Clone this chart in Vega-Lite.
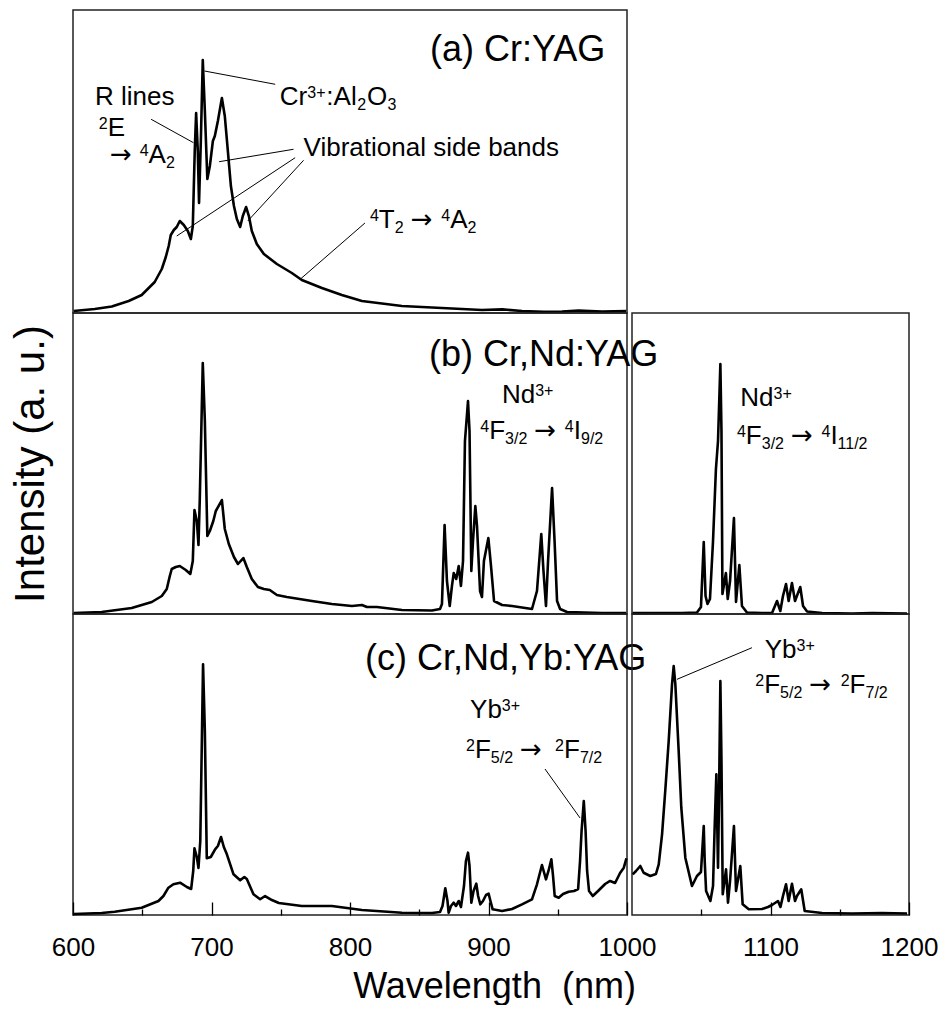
{
  "$schema": "https://vega.github.io/schema/vega-lite/v6.json",
  "background": "white",
  "padding": {"left": 8, "top": 9, "right": 0, "bottom": 0},
  "config": {
    "font": "Liberation Sans",
    "view": {"stroke": "#222222", "strokeWidth": 1.5},
    "axis": {"grid": false, "titleFontWeight": "normal", "titleColor": "black", "labelColor": "black", "labelFont": "Liberation Sans", "titleFont": "Liberation Sans"}
  },
  "datasets": {
    "spec": [
      {"p":"a","w":600.5,"i":0.66},{"p":"a","w":615.7,"i":1.32},{"p":"a","w":628.0,"i":2.15},{"p":"a","w":640.2,"i":3.96},{"p":"a","w":649.6,"i":5.94},{"p":"a","w":659.0,"i":10.23},{"p":"a","w":664.1,"i":14.52},{"p":"a","w":667.0,"i":18.48},{"p":"a","w":669.1,"i":22.11},{"p":"a","w":670.6,"i":25.74},{"p":"a","w":672.8,"i":27.39},{"p":"a","w":674.9,"i":28.38},{"p":"a","w":677.1,"i":30.36},{"p":"a","w":680.0,"i":29.04},{"p":"a","w":682.9,"i":27.06},{"p":"a","w":685.1,"i":24.42},{"p":"a","w":686.5,"i":28.71},{"p":"a","w":687.9,"i":53.47},{"p":"a","w":688.9,"i":66.0},{"p":"a","w":690.1,"i":53.47},{"p":"a","w":691.0,"i":36.3},{"p":"a","w":692.3,"i":56.77},{"p":"a","w":693.7,"i":83.5},{"p":"a","w":695.2,"i":66.67},{"p":"a","w":697.0,"i":44.22},{"p":"a","w":698.8,"i":48.51},{"p":"a","w":701.0,"i":56.77},{"p":"a","w":702.4,"i":58.42},{"p":"a","w":704.6,"i":63.37},{"p":"a","w":707.5,"i":70.96},{"p":"a","w":709.6,"i":65.02},{"p":"a","w":711.8,"i":53.47},{"p":"a","w":714.0,"i":41.91},{"p":"a","w":716.2,"i":35.31},{"p":"a","w":718.3,"i":31.02},{"p":"a","w":720.7,"i":28.38},{"p":"a","w":722.6,"i":32.01},{"p":"a","w":725.0,"i":34.98},{"p":"a","w":727.0,"i":32.01},{"p":"a","w":729.1,"i":27.06},{"p":"a","w":732.7,"i":22.77},{"p":"a","w":737.8,"i":19.47},{"p":"a","w":747.2,"i":16.17},{"p":"a","w":758.0,"i":13.2},{"p":"a","w":765.2,"i":10.89},{"p":"a","w":779.7,"i":8.25},{"p":"a","w":794.1,"i":5.94},{"p":"a","w":808.6,"i":3.96},{"p":"a","w":837.5,"i":2.31},{"p":"a","w":866.4,"i":1.65},{"p":"a","w":895.3,"i":0.99},{"p":"a","w":910.0,"i":1.2},{"p":"a","w":924.2,"i":0.66},{"p":"a","w":940.0,"i":0.4},{"p":"a","w":953.1,"i":0.5},{"p":"a","w":965.0,"i":0.8},{"p":"a","w":982.0,"i":0.5},{"p":"a","w":999.4,"i":0.66},
      {"p":"bL","w":600.5,"i":0.33},{"p":"bL","w":620.7,"i":0.66},{"p":"bL","w":642.4,"i":1.99},{"p":"bL","w":656.9,"i":3.99},{"p":"bL","w":664.1,"i":5.98},{"p":"bL","w":667.7,"i":8.31},{"p":"bL","w":669.9,"i":12.62},{"p":"bL","w":671.3,"i":14.95},{"p":"bL","w":674.2,"i":15.61},{"p":"bL","w":677.1,"i":15.95},{"p":"bL","w":681.4,"i":14.62},{"p":"bL","w":684.7,"i":13.29},{"p":"bL","w":686.5,"i":17.61},{"p":"bL","w":687.7,"i":34.55},{"p":"bL","w":689.4,"i":30.9},{"p":"bL","w":690.6,"i":22.92},{"p":"bL","w":691.5,"i":37.54},{"p":"bL","w":693.7,"i":83.39},{"p":"bL","w":695.2,"i":64.12},{"p":"bL","w":697.0,"i":25.91},{"p":"bL","w":698.8,"i":27.57},{"p":"bL","w":701.3,"i":30.9},{"p":"bL","w":703.1,"i":34.22},{"p":"bL","w":707.5,"i":37.87},{"p":"bL","w":709.6,"i":28.24},{"p":"bL","w":712.5,"i":23.26},{"p":"bL","w":716.2,"i":18.94},{"p":"bL","w":719.1,"i":16.61},{"p":"bL","w":723.0,"i":18.6},{"p":"bL","w":725.5,"i":15.61},{"p":"bL","w":729.1,"i":11.63},{"p":"bL","w":733.5,"i":8.97},{"p":"bL","w":737.8,"i":8.31},{"p":"bL","w":742.1,"i":7.97},{"p":"bL","w":747.2,"i":6.31},{"p":"bL","w":754.4,"i":5.65},{"p":"bL","w":772.5,"i":4.32},{"p":"bL","w":786.9,"i":3.32},{"p":"bL","w":801.4,"i":2.66},{"p":"bL","w":808.6,"i":2.99},{"p":"bL","w":812.2,"i":2.33},{"p":"bL","w":819.4,"i":2.33},{"p":"bL","w":837.5,"i":1.33},{"p":"bL","w":859.2,"i":1.16},{"p":"bL","w":865.0,"i":1.66},{"p":"bL","w":866.4,"i":3.32},{"p":"bL","w":868.3,"i":29.57},{"p":"bL","w":870.0,"i":10.96},{"p":"bL","w":872.0,"i":2.66},{"p":"bL","w":873.6,"i":9.3},{"p":"bL","w":874.9,"i":13.62},{"p":"bL","w":876.7,"i":11.63},{"p":"bL","w":878.5,"i":15.95},{"p":"bL","w":880.1,"i":9.3},{"p":"bL","w":881.6,"i":17.61},{"p":"bL","w":883.0,"i":57.48},{"p":"bL","w":885.2,"i":70.76},{"p":"bL","w":886.3,"i":60.8},{"p":"bL","w":887.6,"i":14.29},{"p":"bL","w":888.8,"i":24.25},{"p":"bL","w":890.5,"i":35.88},{"p":"bL","w":891.7,"i":29.24},{"p":"bL","w":893.9,"i":7.64},{"p":"bL","w":895.3,"i":5.65},{"p":"bL","w":896.7,"i":17.61},{"p":"bL","w":899.9,"i":25.25},{"p":"bL","w":901.8,"i":15.95},{"p":"bL","w":904.0,"i":4.32},{"p":"bL","w":909.8,"i":2.99},{"p":"bL","w":917.0,"i":2.66},{"p":"bL","w":931.4,"i":1.66},{"p":"bL","w":935.0,"i":7.64},{"p":"bL","w":938.1,"i":26.58},{"p":"bL","w":939.7,"i":14.29},{"p":"bL","w":941.5,"i":2.66},{"p":"bL","w":943.0,"i":17.61},{"p":"bL","w":945.9,"i":41.86},{"p":"bL","w":947.7,"i":24.25},{"p":"bL","w":949.5,"i":4.32},{"p":"bL","w":951.7,"i":1.66},{"p":"bL","w":956.7,"i":0.66},{"p":"bL","w":982.0,"i":0.33},{"p":"bL","w":999.4,"i":0.33},
      {"p":"bR","w":1000.4,"i":0.3},{"p":"bR","w":1021.7,"i":0.33},{"p":"bR","w":1036.1,"i":0.33},{"p":"bR","w":1046.9,"i":0.5},{"p":"bR","w":1049.8,"i":2.33},{"p":"bR","w":1051.8,"i":23.92},{"p":"bR","w":1053.1,"i":5.98},{"p":"bR","w":1054.5,"i":3.32},{"p":"bR","w":1056.3,"i":4.98},{"p":"bR","w":1058.5,"i":24.25},{"p":"bR","w":1060.6,"i":48.17},{"p":"bR","w":1062.1,"i":57.48},{"p":"bR","w":1063.8,"i":83.06},{"p":"bR","w":1064.6,"i":60.8},{"p":"bR","w":1065.3,"i":6.64},{"p":"bR","w":1067.8,"i":13.62},{"p":"bR","w":1069.1,"i":4.98},{"p":"bR","w":1070.8,"i":10.96},{"p":"bR","w":1073.6,"i":31.89},{"p":"bR","w":1075.1,"i":3.99},{"p":"bR","w":1077.5,"i":16.28},{"p":"bR","w":1079.4,"i":2.66},{"p":"bR","w":1083.0,"i":0.5},{"p":"bR","w":1093.9,"i":0.33},{"p":"bR","w":1101.1,"i":0.33},{"p":"bR","w":1104.7,"i":4.32},{"p":"bR","w":1107.1,"i":1.0},{"p":"bR","w":1109.0,"i":5.98},{"p":"bR","w":1111.2,"i":9.97},{"p":"bR","w":1113.1,"i":4.32},{"p":"bR","w":1115.5,"i":10.3},{"p":"bR","w":1117.7,"i":4.32},{"p":"bR","w":1121.5,"i":8.97},{"p":"bR","w":1123.5,"i":2.66},{"p":"bR","w":1126.4,"i":0.83},{"p":"bR","w":1137.2,"i":0.33},{"p":"bR","w":1158.8,"i":0.17},{"p":"bR","w":1173.3,"i":0.33},{"p":"bR","w":1198.6,"i":0.17},
      {"p":"cL","w":600.5,"i":0.33},{"p":"cL","w":620.7,"i":0.66},{"p":"cL","w":630.1,"i":1.1},{"p":"cL","w":649.6,"i":2.43},{"p":"cL","w":661.7,"i":4.65},{"p":"cL","w":665.3,"i":6.31},{"p":"cL","w":668.9,"i":9.07},{"p":"cL","w":672.5,"i":10.2},{"p":"cL","w":677.3,"i":10.73},{"p":"cL","w":682.2,"i":9.3},{"p":"cL","w":685.3,"i":8.64},{"p":"cL","w":686.8,"i":14.62},{"p":"cL","w":687.7,"i":22.16},{"p":"cL","w":689.4,"i":19.27},{"p":"cL","w":690.6,"i":15.61},{"p":"cL","w":691.9,"i":24.58},{"p":"cL","w":693.9,"i":83.29},{"p":"cL","w":695.2,"i":61.13},{"p":"cL","w":696.6,"i":18.84},{"p":"cL","w":699.5,"i":19.27},{"p":"cL","w":702.6,"i":21.83},{"p":"cL","w":704.6,"i":22.92},{"p":"cL","w":706.9,"i":25.91},{"p":"cL","w":708.9,"i":22.59},{"p":"cL","w":711.1,"i":20.17},{"p":"cL","w":715.9,"i":13.52},{"p":"cL","w":720.7,"i":11.53},{"p":"cL","w":723.7,"i":12.62},{"p":"cL","w":725.5,"i":11.96},{"p":"cL","w":730.3,"i":6.88},{"p":"cL","w":735.1,"i":5.22},{"p":"cL","w":738.7,"i":6.31},{"p":"cL","w":743.6,"i":4.98},{"p":"cL","w":748.6,"i":3.99},{"p":"cL","w":765.2,"i":2.99},{"p":"cL","w":786.9,"i":2.99},{"p":"cL","w":808.6,"i":1.66},{"p":"cL","w":837.5,"i":0.76},{"p":"cL","w":859.2,"i":0.66},{"p":"cL","w":865.0,"i":1.0},{"p":"cL","w":866.8,"i":2.99},{"p":"cL","w":868.8,"i":8.87},{"p":"cL","w":870.4,"i":4.65},{"p":"cL","w":871.2,"i":0.76},{"p":"cL","w":872.9,"i":2.99},{"p":"cL","w":874.9,"i":4.09},{"p":"cL","w":876.5,"i":2.99},{"p":"cL","w":878.5,"i":4.65},{"p":"cL","w":880.1,"i":2.66},{"p":"cL","w":882.3,"i":9.63},{"p":"cL","w":883.7,"i":17.94},{"p":"cL","w":885.2,"i":20.7},{"p":"cL","w":886.3,"i":16.28},{"p":"cL","w":887.6,"i":4.09},{"p":"cL","w":889.2,"i":7.97},{"p":"cL","w":891.2,"i":10.4},{"p":"cL","w":892.5,"i":6.31},{"p":"cL","w":894.1,"i":3.55},{"p":"cL","w":896.0,"i":4.65},{"p":"cL","w":898.2,"i":6.64},{"p":"cL","w":900.1,"i":7.08},{"p":"cL","w":901.4,"i":4.65},{"p":"cL","w":903.0,"i":1.89},{"p":"cL","w":909.8,"i":1.33},{"p":"cL","w":917.0,"i":1.99},{"p":"cL","w":924.2,"i":3.55},{"p":"cL","w":931.4,"i":5.22},{"p":"cL","w":935.0,"i":10.2},{"p":"cL","w":938.6,"i":16.61},{"p":"cL","w":941.5,"i":11.86},{"p":"cL","w":943.3,"i":14.62},{"p":"cL","w":945.4,"i":18.5},{"p":"cL","w":946.6,"i":12.96},{"p":"cL","w":947.8,"i":6.31},{"p":"cL","w":950.7,"i":5.75},{"p":"cL","w":953.8,"i":6.98},{"p":"cL","w":957.9,"i":7.74},{"p":"cL","w":961.8,"i":7.97},{"p":"cL","w":964.7,"i":8.64},{"p":"cL","w":966.1,"i":17.94},{"p":"cL","w":967.2,"i":27.91},{"p":"cL","w":968.8,"i":37.87},{"p":"cL","w":970.1,"i":27.91},{"p":"cL","w":971.2,"i":14.62},{"p":"cL","w":972.6,"i":7.97},{"p":"cL","w":975.3,"i":6.31},{"p":"cL","w":979.1,"i":7.97},{"p":"cL","w":984.2,"i":10.3},{"p":"cL","w":987.8,"i":11.3},{"p":"cL","w":991.4,"i":10.63},{"p":"cL","w":995.0,"i":13.95},{"p":"cL","w":997.7,"i":15.71},{"p":"cL","w":999.6,"i":18.84},
      {"p":"cR","w":1000.5,"i":13.52},{"p":"cR","w":1002.9,"i":14.62},{"p":"cR","w":1006.0,"i":16.28},{"p":"cR","w":1008.4,"i":14.05},{"p":"cR","w":1013.2,"i":12.96},{"p":"cR","w":1017.3,"i":13.62},{"p":"cR","w":1019.3,"i":16.84},{"p":"cR","w":1021.7,"i":26.81},{"p":"cR","w":1024.0,"i":41.2},{"p":"cR","w":1026.5,"i":57.81},{"p":"cR","w":1028.9,"i":76.64},{"p":"cR","w":1030.1,"i":82.72},{"p":"cR","w":1031.3,"i":76.64},{"p":"cR","w":1033.7,"i":54.49},{"p":"cR","w":1035.6,"i":35.65},{"p":"cR","w":1038.5,"i":19.04},{"p":"cR","w":1043.3,"i":9.63},{"p":"cR","w":1046.9,"i":12.96},{"p":"cR","w":1049.8,"i":14.29},{"p":"cR","w":1051.8,"i":29.57},{"p":"cR","w":1052.5,"i":17.94},{"p":"cR","w":1053.5,"i":7.97},{"p":"cR","w":1056.6,"i":4.65},{"p":"cR","w":1058.5,"i":9.63},{"p":"cR","w":1059.6,"i":27.91},{"p":"cR","w":1060.9,"i":46.74},{"p":"cR","w":1062.1,"i":15.71},{"p":"cR","w":1062.8,"i":37.87},{"p":"cR","w":1063.8,"i":77.74},{"p":"cR","w":1064.6,"i":51.16},{"p":"cR","w":1065.5,"i":6.88},{"p":"cR","w":1067.9,"i":15.18},{"p":"cR","w":1069.3,"i":4.09},{"p":"cR","w":1070.8,"i":11.3},{"p":"cR","w":1073.6,"i":29.57},{"p":"cR","w":1075.1,"i":7.97},{"p":"cR","w":1078.2,"i":16.28},{"p":"cR","w":1079.9,"i":3.55},{"p":"cR","w":1084.3,"i":1.89},{"p":"cR","w":1093.9,"i":1.99},{"p":"cR","w":1098.2,"i":2.66},{"p":"cR","w":1101.1,"i":3.32},{"p":"cR","w":1105.4,"i":4.65},{"p":"cR","w":1107.2,"i":2.66},{"p":"cR","w":1109.0,"i":6.31},{"p":"cR","w":1111.2,"i":10.2},{"p":"cR","w":1113.1,"i":4.65},{"p":"cR","w":1115.5,"i":10.4},{"p":"cR","w":1117.7,"i":4.65},{"p":"cR","w":1119.1,"i":6.31},{"p":"cR","w":1122.2,"i":8.54},{"p":"cR","w":1124.7,"i":1.33},{"p":"cR","w":1137.2,"i":0.66},{"p":"cR","w":1158.8,"i":0.5},{"p":"cR","w":1180.5,"i":0.66},{"p":"cR","w":1198.6,"i":0.5}
    ],
    "lead": [
      {"p":"a","w":656.4,"i":63.93,"w2":687.0,"i2":56.2},
      {"p":"a","w":694.9,"i":79.87,"w2":746.0,"i2":75.48},
      {"p":"a","w":759.2,"i":54.03,"w2":705.5,"i2":49.93},
      {"p":"a","w":760.4,"i":51.25,"w2":674.9,"i2":25.41},
      {"p":"a","w":766.5,"i":50.4,"w2":726.2,"i2":30.36},
      {"p":"a","w":810.8,"i":29.7,"w2":764.0,"i2":11.12},
      {"p":"cL","w":940.8,"i":48.5,"w2":966.1,"i2":32.23},
      {"p":"cR","w":1086.6,"i":88.8,"w2":1032.5,"i2":78.3}
    ],
    "notes": [
      {"p":"a","k":"title","t":"(a) Cr:YAG","w":857.7,"i":83.17},
      {"p":"a","k":"main","t":"R lines","w":615.9,"i":68.65},
      {"p":"a","k":"sup","t":"2","w":618.6,"i":58.42},
      {"p":"a","k":"main","t":"E","w":625.1,"i":58.42},
      {"p":"a","k":"arrow","t":"→","w":626.7,"i":49.6},
      {"p":"a","k":"sup","t":"4","w":648.2,"i":49.6},
      {"p":"a","k":"main","t":"A","w":654.6,"i":49.6},
      {"p":"a","k":"sub","t":"2","w":667.1,"i":49.6},
      {"p":"a","k":"main","t":"Cr","w":749.3,"i":68.65},
      {"p":"a","k":"sup","t":"3+","w":769.2,"i":68.65},
      {"p":"a","k":"main","t":":Al","w":782.9,"i":68.65},
      {"p":"a","k":"sub","t":"2","w":805.3,"i":68.65},
      {"p":"a","k":"main","t":"O","w":812.2,"i":68.65},
      {"p":"a","k":"sub","t":"3","w":827.0,"i":68.65},
      {"p":"a","k":"main","t":"Vibrational side bands","w":766.5,"i":51.82},
      {"p":"a","k":"sup","t":"4","w":814.4,"i":28.15},
      {"p":"a","k":"main","t":"T","w":820.8,"i":28.15},
      {"p":"a","k":"sub","t":"2","w":832.3,"i":28.15},
      {"p":"a","k":"arrow","t":"→","w":843.8,"i":28.15},
      {"p":"a","k":"sup","t":"4","w":865.8,"i":28.15},
      {"p":"a","k":"main","t":"A","w":872.3,"i":28.15},
      {"p":"a","k":"sub","t":"2","w":884.8,"i":28.15},
      {"p":"bL","k":"title","t":"(b) Cr,Nd:YAG","w":857.0,"i":82.39},
      {"p":"bL","k":"main","t":"Nd","w":909.8,"i":70.2},
      {"p":"bL","k":"sup","t":"3+","w":933.7,"i":70.2},
      {"p":"bL","k":"sup","t":"4","w":894.1,"i":58.04},
      {"p":"bL","k":"main","t":"F","w":900.5,"i":58.04},
      {"p":"bL","k":"sub","t":"3/2","w":912.0,"i":58.04},
      {"p":"bL","k":"arrow","t":"→","w":933.1,"i":58.04},
      {"p":"bL","k":"sup","t":"4","w":955.1,"i":58.04},
      {"p":"bL","k":"main","t":"I","w":961.6,"i":58.04},
      {"p":"bL","k":"sub","t":"9/2","w":966.8,"i":58.04},
      {"p":"bR","k":"main","t":"Nd","w":1078.2,"i":69.1},
      {"p":"bR","k":"sup","t":"3+","w":1102.2,"i":69.1},
      {"p":"bR","k":"sup","t":"4","w":1075.8,"i":56.48},
      {"p":"bR","k":"main","t":"F","w":1082.2,"i":56.48},
      {"p":"bR","k":"sub","t":"3/2","w":1093.7,"i":56.48},
      {"p":"bR","k":"arrow","t":"→","w":1114.8,"i":56.48},
      {"p":"bR","k":"sup","t":"4","w":1136.8,"i":56.48},
      {"p":"bR","k":"main","t":"I","w":1143.3,"i":56.48},
      {"p":"bR","k":"sub","t":"11/2","w":1148.4,"i":56.48},
      {"p":"cL","k":"title","t":"(c) Cr,Nd,Yb:YAG","w":810.8,"i":81.4},
      {"p":"cL","k":"main","t":"Yb","w":886.7,"i":65.45},
      {"p":"cL","k":"sup","t":"3+","w":909.6,"i":65.45},
      {"p":"cL","k":"sup","t":"2","w":883.7,"i":52.16},
      {"p":"cL","k":"main","t":"F","w":890.2,"i":52.16},
      {"p":"cL","k":"sub","t":"5/2","w":901.7,"i":52.16},
      {"p":"cL","k":"arrow","t":"→","w":922.8,"i":52.16},
      {"p":"cL","k":"sup","t":"2","w":948.1,"i":52.16},
      {"p":"cL","k":"main","t":"F","w":954.5,"i":52.16},
      {"p":"cL","k":"sub","t":"7/2","w":966.0,"i":52.16},
      {"p":"cR","k":"main","t":"Yb","w":1095.8,"i":85.48},
      {"p":"cR","k":"sup","t":"3+","w":1118.8,"i":85.48},
      {"p":"cR","k":"sup","t":"2","w":1089.0,"i":73.85},
      {"p":"cR","k":"main","t":"F","w":1095.4,"i":73.85},
      {"p":"cR","k":"sub","t":"5/2","w":1106.9,"i":73.85},
      {"p":"cR","k":"arrow","t":"→","w":1128.0,"i":73.85},
      {"p":"cR","k":"sup","t":"2","w":1150.7,"i":73.85},
      {"p":"cR","k":"main","t":"F","w":1157.1,"i":73.85},
      {"p":"cR","k":"sub","t":"7/2","w":1168.6,"i":73.85}
    ]
  },
  "columns": 2,
  "spacing": {"row": 0, "column": 5},
  "bounds": "flush",
  "align": "each",
  "concat": [
    {
      "width": 554, "height": 303,
      "encoding": {
        "x": {"field": "w", "type": "quantitative", "scale": {"domain": [600, 1000], "nice": false, "zero": false}, "axis": null},
        "y": {"field": "i", "type": "quantitative", "scale": {"domain": [0, 100], "nice": false}, "axis": null}
      },
      "layer": [
        {"data": {"name": "spec"}, "transform": [{"filter": "datum.p === 'a'"}], "mark": {"type": "line", "color": "black", "strokeWidth": 2.6, "strokeJoin": "round"}},
        {"data": {"name": "lead"}, "transform": [{"filter": "datum.p === 'a'"}], "mark": {"type": "rule", "color": "black", "strokeWidth": 1}, "encoding": {"x2": {"field": "w2"}, "y2": {"field": "i2"}}},
        {"data": {"name": "notes"}, "transform": [{"filter": "datum.p === 'a' && datum.k === 'title'"}], "mark": {"type": "text", "align": "left", "baseline": "alphabetic", "fontSize": 36, "color": "black"}, "encoding": {"text": {"field": "t"}}},
        {"data": {"name": "notes"}, "transform": [{"filter": "datum.p === 'a' && datum.k === 'main'"}], "mark": {"type": "text", "align": "left", "baseline": "alphabetic", "fontSize": 26, "color": "black"}, "encoding": {"text": {"field": "t"}}},
        {"data": {"name": "notes"}, "transform": [{"filter": "datum.p === 'a' && datum.k === 'arrow'"}], "mark": {"type": "text", "align": "left", "baseline": "alphabetic", "fontSize": 26, "font": "DejaVu Sans", "color": "black"}, "encoding": {"text": {"field": "t"}}},
        {"data": {"name": "notes"}, "transform": [{"filter": "datum.p === 'a' && datum.k === 'sup'"}], "mark": {"type": "text", "align": "left", "baseline": "alphabetic", "fontSize": 16, "dy": -7, "color": "black"}, "encoding": {"text": {"field": "t"}}},
        {"data": {"name": "notes"}, "transform": [{"filter": "datum.p === 'a' && datum.k === 'sub'"}], "mark": {"type": "text", "align": "left", "baseline": "alphabetic", "fontSize": 16, "dy": 5, "color": "black"}, "encoding": {"text": {"field": "t"}}}
      ]
    },
    {
      "width": 277, "height": 303,
      "view": {"stroke": null},
      "data": {"values": []},
      "mark": {"type": "point", "opacity": 0}
    },
    {
      "width": 554, "height": 301,
      "encoding": {
        "x": {"field": "w", "type": "quantitative", "scale": {"domain": [600, 1000], "nice": false, "zero": false}, "axis": null},
        "y": {"field": "i", "type": "quantitative", "scale": {"domain": [0, 100], "nice": false}, "axis": {"title": "Intensity (a. u.)", "labels": false, "ticks": false, "domain": false, "titleFontSize": 42, "titlePadding": 21}}
      },
      "layer": [
        {"data": {"name": "spec"}, "transform": [{"filter": "datum.p === 'bL'"}], "mark": {"type": "line", "color": "black", "strokeWidth": 2.6, "strokeJoin": "round"}},
        {"data": {"name": "notes"}, "transform": [{"filter": "datum.p === 'bL' && datum.k === 'title'"}], "mark": {"type": "text", "align": "left", "baseline": "alphabetic", "fontSize": 36, "color": "black"}, "encoding": {"text": {"field": "t"}}},
        {"data": {"name": "notes"}, "transform": [{"filter": "datum.p === 'bL' && datum.k === 'main'"}], "mark": {"type": "text", "align": "left", "baseline": "alphabetic", "fontSize": 26, "color": "black"}, "encoding": {"text": {"field": "t"}}},
        {"data": {"name": "notes"}, "transform": [{"filter": "datum.p === 'bL' && datum.k === 'arrow'"}], "mark": {"type": "text", "align": "left", "baseline": "alphabetic", "fontSize": 26, "font": "DejaVu Sans", "color": "black"}, "encoding": {"text": {"field": "t"}}},
        {"data": {"name": "notes"}, "transform": [{"filter": "datum.p === 'bL' && datum.k === 'sup'"}], "mark": {"type": "text", "align": "left", "baseline": "alphabetic", "fontSize": 16, "dy": -7, "color": "black"}, "encoding": {"text": {"field": "t"}}},
        {"data": {"name": "notes"}, "transform": [{"filter": "datum.p === 'bL' && datum.k === 'sub'"}], "mark": {"type": "text", "align": "left", "baseline": "alphabetic", "fontSize": 16, "dy": 5, "color": "black"}, "encoding": {"text": {"field": "t"}}}
      ]
    },
    {
      "width": 277, "height": 301,
      "encoding": {
        "x": {"field": "w", "type": "quantitative", "scale": {"domain": [1000, 1200], "nice": false, "zero": false}, "axis": null},
        "y": {"field": "i", "type": "quantitative", "scale": {"domain": [0, 100], "nice": false}, "axis": null}
      },
      "layer": [
        {"data": {"name": "spec"}, "transform": [{"filter": "datum.p === 'bR'"}], "mark": {"type": "line", "color": "black", "strokeWidth": 2.6, "strokeJoin": "round"}},
        {"data": {"name": "notes"}, "transform": [{"filter": "datum.p === 'bR' && datum.k === 'main'"}], "mark": {"type": "text", "align": "left", "baseline": "alphabetic", "fontSize": 26, "color": "black"}, "encoding": {"text": {"field": "t"}}},
        {"data": {"name": "notes"}, "transform": [{"filter": "datum.p === 'bR' && datum.k === 'arrow'"}], "mark": {"type": "text", "align": "left", "baseline": "alphabetic", "fontSize": 26, "font": "DejaVu Sans", "color": "black"}, "encoding": {"text": {"field": "t"}}},
        {"data": {"name": "notes"}, "transform": [{"filter": "datum.p === 'bR' && datum.k === 'sup'"}], "mark": {"type": "text", "align": "left", "baseline": "alphabetic", "fontSize": 16, "dy": -7, "color": "black"}, "encoding": {"text": {"field": "t"}}},
        {"data": {"name": "notes"}, "transform": [{"filter": "datum.p === 'bR' && datum.k === 'sub'"}], "mark": {"type": "text", "align": "left", "baseline": "alphabetic", "fontSize": 16, "dy": 5, "color": "black"}, "encoding": {"text": {"field": "t"}}}
      ]
    },
    {
      "width": 554, "height": 301,
      "encoding": {
        "x": {"field": "w", "type": "quantitative", "scale": {"domain": [600, 1000], "nice": false, "zero": false},
              "axis": {"values": [600, 650, 700, 750, 800, 850, 900, 950, 1000], "format": "d", "labelExpr": "datum.value % 100 === 0 ? datum.label : ''",
                       "tickSize": {"condition": {"test": "datum.value % 100 === 0", "value": -13}, "value": -6},
                       "tickColor": "black", "tickWidth": 1.3, "domain": false, "labelFontSize": 26, "labelPadding": 32, "labelFlush": false,
                       "title": "Wavelength\u00a0 (nm)", "titleFontSize": 36, "titleX": 421, "titlePadding": 9}},
        "y": {"field": "i", "type": "quantitative", "scale": {"domain": [0, 100], "nice": false}, "axis": null}
      },
      "layer": [
        {"data": {"name": "spec"}, "transform": [{"filter": "datum.p === 'cL'"}], "mark": {"type": "line", "color": "black", "strokeWidth": 2.6, "strokeJoin": "round"}},
        {"data": {"name": "lead"}, "transform": [{"filter": "datum.p === 'cL'"}], "mark": {"type": "rule", "color": "black", "strokeWidth": 1}, "encoding": {"x2": {"field": "w2"}, "y2": {"field": "i2"}}},
        {"data": {"name": "notes"}, "transform": [{"filter": "datum.p === 'cL' && datum.k === 'title'"}], "mark": {"type": "text", "align": "left", "baseline": "alphabetic", "fontSize": 36, "color": "black"}, "encoding": {"text": {"field": "t"}}},
        {"data": {"name": "notes"}, "transform": [{"filter": "datum.p === 'cL' && datum.k === 'main'"}], "mark": {"type": "text", "align": "left", "baseline": "alphabetic", "fontSize": 26, "color": "black"}, "encoding": {"text": {"field": "t"}}},
        {"data": {"name": "notes"}, "transform": [{"filter": "datum.p === 'cL' && datum.k === 'arrow'"}], "mark": {"type": "text", "align": "left", "baseline": "alphabetic", "fontSize": 26, "font": "DejaVu Sans", "color": "black"}, "encoding": {"text": {"field": "t"}}},
        {"data": {"name": "notes"}, "transform": [{"filter": "datum.p === 'cL' && datum.k === 'sup'"}], "mark": {"type": "text", "align": "left", "baseline": "alphabetic", "fontSize": 16, "dy": -7, "color": "black"}, "encoding": {"text": {"field": "t"}}},
        {"data": {"name": "notes"}, "transform": [{"filter": "datum.p === 'cL' && datum.k === 'sub'"}], "mark": {"type": "text", "align": "left", "baseline": "alphabetic", "fontSize": 16, "dy": 5, "color": "black"}, "encoding": {"text": {"field": "t"}}}
      ]
    },
    {
      "width": 277, "height": 301,
      "encoding": {
        "x": {"field": "w", "type": "quantitative", "scale": {"domain": [1000, 1200], "nice": false, "zero": false},
              "axis": {"values": [1050, 1100, 1150, 1200], "format": "d", "labelExpr": "datum.value % 100 === 0 ? datum.label : ''",
                       "tickSize": {"condition": {"test": "datum.value % 100 === 0", "value": -13}, "value": -6},
                       "tickColor": "black", "tickWidth": 1.3, "domain": false, "labelFontSize": 26, "labelPadding": 32, "labelFlush": false, "title": null}},
        "y": {"field": "i", "type": "quantitative", "scale": {"domain": [0, 100], "nice": false}, "axis": null}
      },
      "layer": [
        {"data": {"name": "spec"}, "transform": [{"filter": "datum.p === 'cR'"}], "mark": {"type": "line", "color": "black", "strokeWidth": 2.6, "strokeJoin": "round"}},
        {"data": {"name": "lead"}, "transform": [{"filter": "datum.p === 'cR'"}], "mark": {"type": "rule", "color": "black", "strokeWidth": 1}, "encoding": {"x2": {"field": "w2"}, "y2": {"field": "i2"}}},
        {"data": {"name": "notes"}, "transform": [{"filter": "datum.p === 'cR' && datum.k === 'main'"}], "mark": {"type": "text", "align": "left", "baseline": "alphabetic", "fontSize": 26, "color": "black"}, "encoding": {"text": {"field": "t"}}},
        {"data": {"name": "notes"}, "transform": [{"filter": "datum.p === 'cR' && datum.k === 'arrow'"}], "mark": {"type": "text", "align": "left", "baseline": "alphabetic", "fontSize": 26, "font": "DejaVu Sans", "color": "black"}, "encoding": {"text": {"field": "t"}}},
        {"data": {"name": "notes"}, "transform": [{"filter": "datum.p === 'cR' && datum.k === 'sup'"}], "mark": {"type": "text", "align": "left", "baseline": "alphabetic", "fontSize": 16, "dy": -7, "color": "black"}, "encoding": {"text": {"field": "t"}}},
        {"data": {"name": "notes"}, "transform": [{"filter": "datum.p === 'cR' && datum.k === 'sub'"}], "mark": {"type": "text", "align": "left", "baseline": "alphabetic", "fontSize": 16, "dy": 5, "color": "black"}, "encoding": {"text": {"field": "t"}}}
      ]
    }
  ]
}
